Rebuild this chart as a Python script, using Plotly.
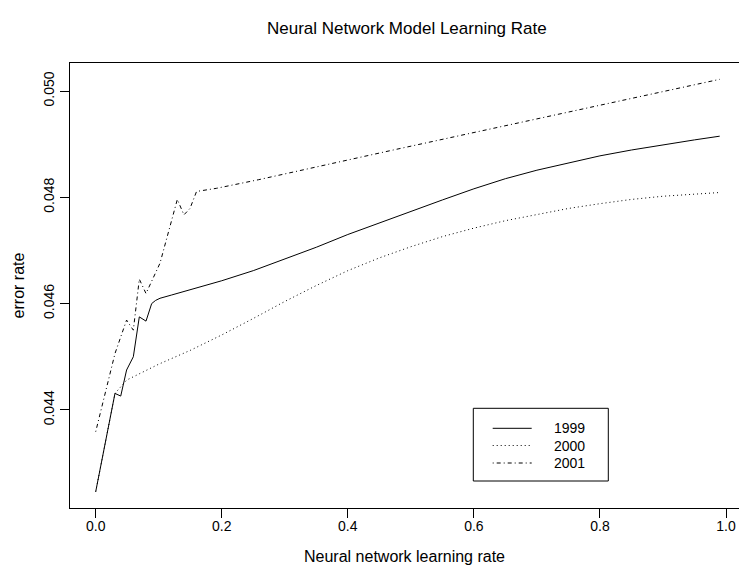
import plotly.graph_objects as go

# values
x_1999 = [0.0, 0.0306, 0.0397, 0.049, 0.0597, 0.0692, 0.0798, 0.0888, 0.095, 0.102, 0.12,
          0.15, 0.2, 0.25, 0.3, 0.35, 0.4, 0.45, 0.5, 0.55, 0.6, 0.65, 0.7, 0.75, 0.8, 0.85,
          0.9, 0.95, 0.99]
y_1999 = [0.04246, 0.04431, 0.04426, 0.04475, 0.04500, 0.04575, 0.04567, 0.04600, 0.04606,
          0.04610, 0.04616, 0.04626, 0.04643, 0.04662, 0.04684, 0.04706, 0.04730, 0.04752,
          0.04773, 0.04795, 0.04816, 0.04835, 0.04851, 0.04865, 0.04878, 0.04889, 0.04899,
          0.04908, 0.04915]

x_2000 = [0.0, 0.0306, 0.049, 0.07, 0.1, 0.15, 0.2, 0.25, 0.3, 0.35, 0.4, 0.45, 0.5, 0.55,
          0.6, 0.65, 0.7, 0.75, 0.8, 0.85, 0.9, 0.95, 0.99]
y_2000 = [0.04246, 0.04431, 0.04456, 0.04468, 0.04486, 0.04512, 0.04541, 0.04572, 0.04604,
          0.04634, 0.04662, 0.04686, 0.04707, 0.04726, 0.04742, 0.04756, 0.04768, 0.04779,
          0.04788, 0.04796, 0.04802, 0.04806, 0.04809]

x_2001 = [0.0, 0.0306, 0.049, 0.0597, 0.0692, 0.0798, 0.102, 0.1295, 0.140, 0.1496, 0.160,
          0.192, 0.258, 0.472, 0.99]
y_2001 = [0.04359, 0.04506, 0.04569, 0.04550, 0.04646, 0.04619, 0.04676, 0.04796, 0.04767,
          0.04779, 0.04811, 0.04817, 0.04833, 0.04889, 0.05022]

series = [("1999", x_1999, y_1999, "solid"),
          ("2000", x_2000, y_2000, "1px,3px"),
          ("2001", x_2001, y_2001, "1px,3px,4px,3px")]

x_ticks = [0.0, 0.2, 0.4, 0.6, 0.8, 1.0]
y_ticks = [0.044, 0.046, 0.048, 0.050]

FONT = "Liberation Sans, Arial, sans-serif"

fig = go.Figure()
for name, xs, ys, dash in series:
    fig.add_trace(go.Scatter(x=xs, y=ys, mode="lines", name=name,
                             line=dict(color="black", width=1, dash=dash)))

W, H = 739, 576
L, R, T, B = 70, 0, 63, 68

fig.update_layout(
    width=W, height=H,
    margin=dict(l=L, r=R, t=T, b=B, autoexpand=False),
    paper_bgcolor="white", plot_bgcolor="white",
    showlegend=False,
    font=dict(family=FONT, size=14, color="black"),
    xaxis=dict(range=[-0.04077, 1.02063], tickvals=x_ticks,
               ticktext=[f"{v:.1f}" for v in x_ticks],
               showgrid=False, zeroline=False, showline=True, mirror=True,
               linecolor="black", linewidth=1, ticks="outside", ticklen=9,
               tickcolor="black", automargin=False, ticklabelstandoff=-4,
               title=dict(text="Neural network learning rate", standoff=18,
                          font=dict(size=16))),
    yaxis=dict(range=[0.042154, 0.050527], tickvals=y_ticks,
               ticktext=[f"{v:.3f}" for v in y_ticks],
               showgrid=False, zeroline=False, showline=True, mirror=False,
               linecolor="black", linewidth=1, ticks="outside", ticklen=9,
               tickcolor="black", tickangle=-90, automargin=False,
               title=dict(text="error rate", standoff=12, font=dict(size=16))),
)

# title
fig.add_annotation(text="Neural Network Model Learning Rate", xref="paper", yref="paper",
                   x=(407 - L) / (W - L - R), y=1 + (T - 28) / (H - T - B),
                   showarrow=False, font=dict(size=17), xanchor="center", yanchor="middle")

# legend box drawn manually (paper coordinates converted from pixels)
pw, ph = W - L - R, H - T - B
def px(xp):
    return (xp - L) / pw
def py(yp):
    return 1 - (yp - T) / ph

fig.add_shape(type="rect", xref="paper", yref="paper",
              x0=px(473.3), x1=px(608.3), y0=py(481), y1=py(408.3),
              line=dict(color="black", width=1), fillcolor="white")
rows = [428.3, 445.5, 463]
for (name, xs, ys, dash), ry in zip(series, rows):
    fig.add_shape(type="line", xref="paper", yref="paper",
                  x0=px(492.7), x1=px(531.7), y0=py(ry), y1=py(ry),
                  line=dict(color="black", width=1, dash=dash))
    fig.add_annotation(text=name, xref="paper", yref="paper", x=px(551.5), y=py(ry),
                       showarrow=False, xanchor="left", yanchor="middle",
                       font=dict(size=14))

fig.write_html("out.html", config={"displayModeBar": False},
               post_script="document.body.style.margin='0px';")
